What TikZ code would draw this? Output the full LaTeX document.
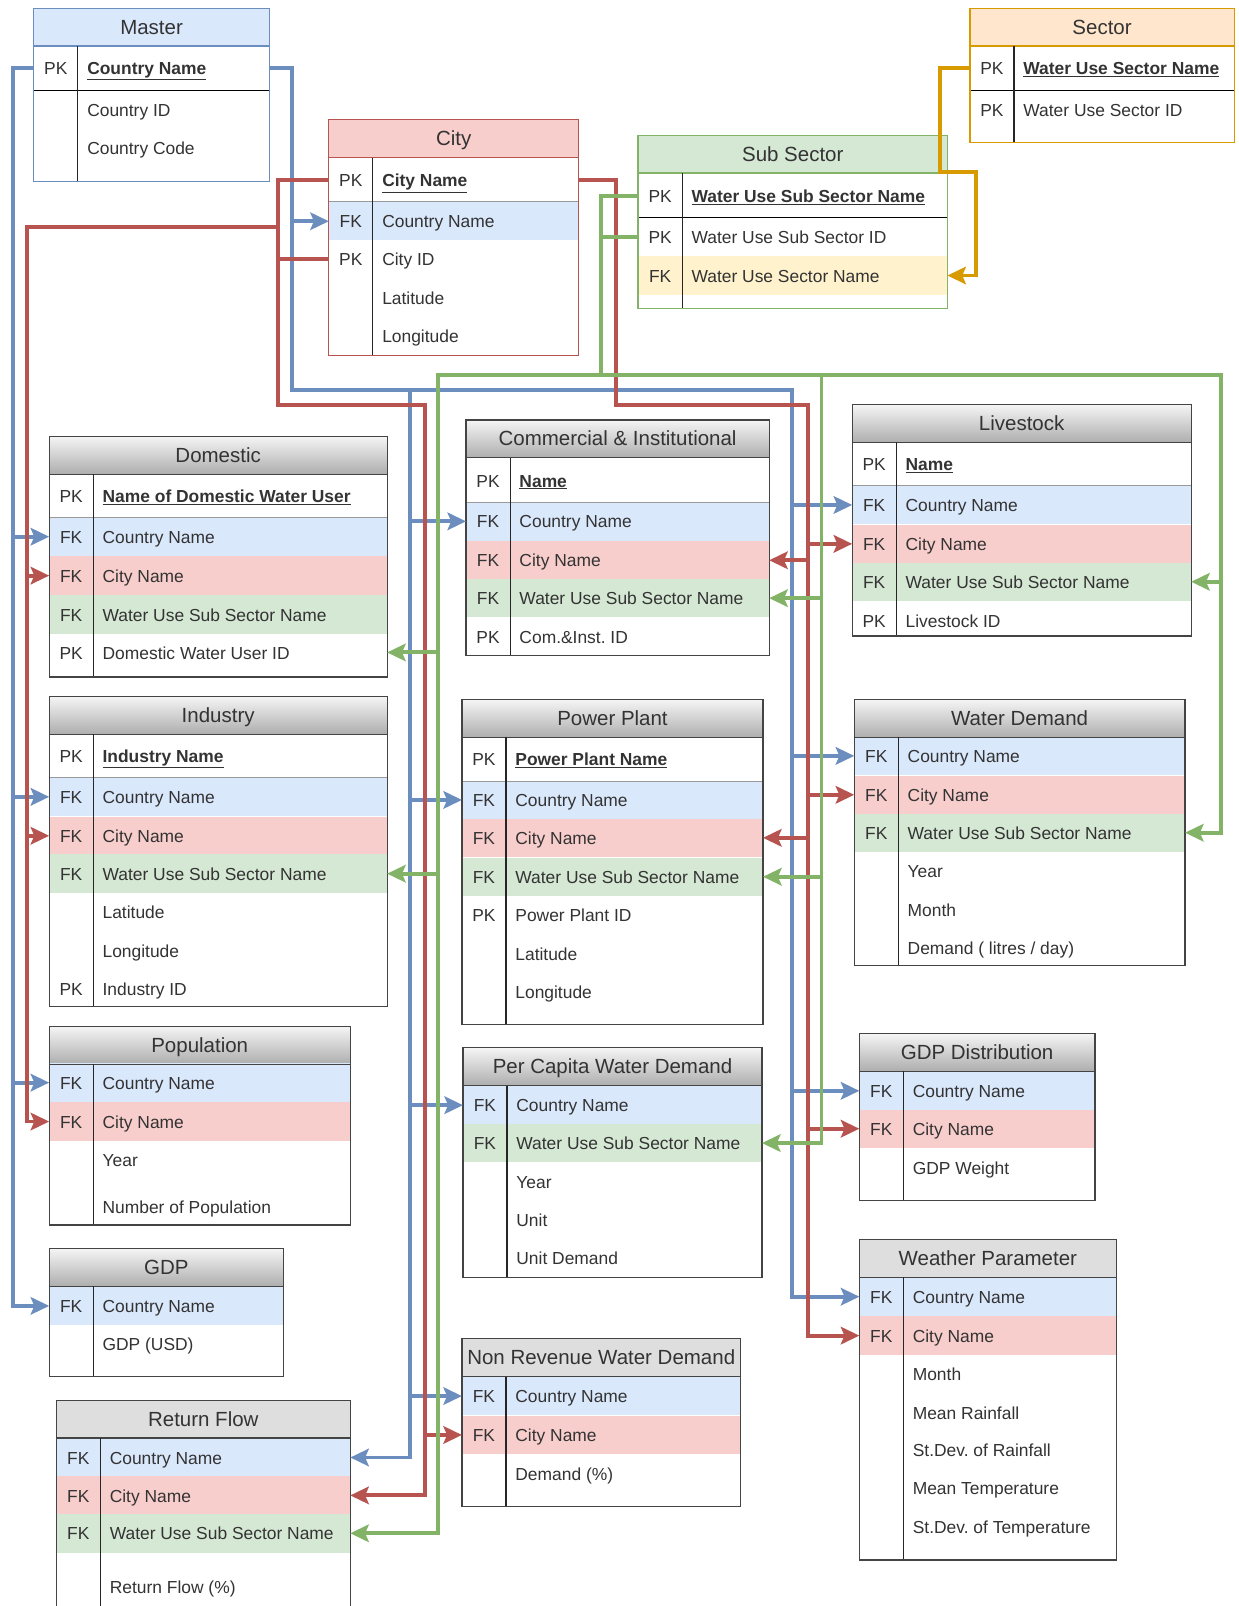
\documentclass[tikz,border=0pt]{standalone}
\usepackage{fontspec}
\setmainfont{Liberation Sans}
\usetikzlibrary{arrows.meta}
\frenchspacing

\definecolor{cblue}{HTML}{6C8EBF}
\definecolor{cred}{HTML}{B85450}
\definecolor{cgreen}{HTML}{82B366}
\definecolor{corange}{HTML}{D79B00}
\definecolor{fblue}{HTML}{DAE8FC}
\definecolor{fred}{HTML}{F8CECC}
\definecolor{fgreen}{HTML}{D5E8D4}
\definecolor{fyellow}{HTML}{FFF2CC}
\definecolor{forange}{HTML}{FFE6CC}
\definecolor{txt}{HTML}{333333}
\definecolor{frame}{HTML}{444444}
\definecolor{sepgray}{HTML}{9A9A9A}

\newcommand\erRowFont{\fontsize{17}{20}\selectfont}
\newcommand\erTtlFont{\fontsize{20}{24}\selectfont}
\newcommand\erpk[1]{\underline{\textbf{#1}}}

% one field row: [fill] name, left, right, y centre, key, text
\newcommand\erfld[7][none]{%
  \pgfmathsetmacro\erfw{#4-#3}%
  \node[fldbox, fill=#1, minimum width=\erfw pt] (#2) at ({(#3+#4)/2},#5) {};%
  \node[keytxt] (#2-k) at ({#3+21.5},{#5+2}) {#6};%
  \node[fldtxt] (#2-t) at ({#3+52},{#5+2}) {#7};%
}
% table body and header: name, left, top, right, bottom, header style, title
\newcommand\erhead[7]{%
  \pgfmathsetmacro\ertw{#4-#2}%
  \pgfmathsetmacro\erth{#5-#3}%
  \node[inner sep=0pt, outer sep=0pt, fill=white, minimum width=\ertw pt, minimum height=\erth pt] (#1) at ({(#2+#4)/2},{(#3+#5)/2}) {};%
  \path[#6] (#2,#3) rectangle (#4,{#3+37});%
  \node[ttl] (#1-ttl) at ({(#2+#4)/2},{#3+20}) {#7};%
}
% frame, header rule and key divider: left, top, right, bottom, border colour
\newcommand\erframe[5]{%
  \draw[draw=#5, line width=1.2pt] (#1,{#2+37}) -- (#3,{#2+37});%
  \draw[draw=black!85, line width=1.1pt] ({#1+43},{#2+37}) -- ({#1+43},#4);%
  \draw[draw=#5, line width=1.2pt] (#1,#2) rectangle (#3,#4);%
}
% rule under the primary key row: left, right, y, colour
\newcommand\ersep[4]{\draw[draw=#4, line width=1.1pt] (#1,#3) -- (#2,#3);}

\tikzset{
  fldbox/.style={inner sep=0pt, outer sep=0pt, minimum height=37.5pt, draw=none},
  keytxt/.style={inner sep=0pt, font=\erRowFont, text=txt, anchor=center, text height=12.5pt, text depth=3.5pt},
  fldtxt/.style={inner sep=0pt, font=\erRowFont, text=txt, anchor=west, text height=12.5pt, text depth=3.5pt},
  ttl/.style={inner sep=0pt, font=\erTtlFont, text=txt, text height=14.5pt, text depth=4pt},
  ghead/.style={top color=black!4, bottom color=black!32},
  fhead/.style={fill=black!13},
  relline/.style={line width=3.8pt},
  cnline/.style={relline, draw=cblue},
  ctline/.style={relline, draw=cred},
  wsline/.style={relline, draw=cgreen},
  snline/.style={relline, draw=corange},
  fkarrow/.style={-{Stealth[length=18pt,width=17pt,inset=3.5pt]}},
  fkboth/.style={{Stealth[length=18pt,width=17pt,inset=3.5pt]}-{Stealth[length=18pt,width=17pt,inset=3.5pt]}}
}

\begin{document}
\begin{tikzpicture}[x=1pt,y=-1pt]
\useasboundingbox (0,0) rectangle (1209,1568);
\fill[white] (0,0) rectangle (1209,1568);

% ---------- Master ----------
\erhead{mas}{33}{8}{263}{177}{fill=fblue}{Master}
\erfld{mas-cn}{33}{263}{66}{PK}{\erpk{Country Name}}
\erfld{mas-id}{33}{263}{107}{}{Country ID}
\erfld{mas-cc}{33}{263}{144}{}{Country Code}
\ersep{33}{263}{88}{black}
\erframe{33}{8}{263}{177}{cblue}

% ---------- City ----------
\erhead{city}{321}{117}{565}{347}{fill=fred}{City}
\erfld{city-nm}{321}{565}{176}{PK}{\erpk{City Name}}
\erfld[fblue]{city-cn}{321}{565}{216}{FK}{Country Name}
\erfld{city-id}{321}{565}{253}{PK}{City ID}
\erfld{city-la}{321}{565}{291}{}{Latitude}
\erfld{city-lo}{321}{565}{328}{}{Longitude}
\ersep{321}{565}{197}{sepgray}
\erframe{321}{117}{565}{347}{cred}

% ---------- Sub Sector ----------
\erhead{sub}{623}{132}{925}{301}{fill=fgreen}{Sub Sector}
\erfld{sub-nm}{623}{925}{191}{PK}{\erpk{Water Use Sub Sector Name}}
\erfld{sub-id}{623}{925}{231}{PK}{Water Use Sub Sector ID}
\erfld[fyellow]{sub-sn}{623}{925}{269}{FK}{Water Use Sector Name}
\ersep{623}{925}{212}{black}
\erframe{623}{132}{925}{301}{cgreen}

% ---------- Sector ----------
\erhead{sec}{947}{8}{1205}{139}{fill=forange}{Sector}
\erfld{sec-nm}{947}{1205}{66}{PK}{\erpk{Water Use Sector Name}}
\erfld{sec-id}{947}{1205}{107}{PK}{Water Use Sector ID}
\ersep{947}{1205}{88}{black}
\erframe{947}{8}{1205}{139}{corange}

% ---------- Domestic ----------
\erhead{dom}{48}{426}{378}{661}{ghead}{Domestic}
\erfld{dom-nm}{48}{378}{484}{PK}{\erpk{Name of Domestic Water User}}
\erfld[fblue]{dom-cn}{48}{378}{524}{FK}{Country Name}
\erfld[fred]{dom-ct}{48}{378}{562}{FK}{City Name}
\erfld[fgreen]{dom-ws}{48}{378}{600}{FK}{Water Use Sub Sector Name}
\erfld{dom-id}{48}{378}{637}{PK}{Domestic Water User ID}
\ersep{48}{378}{505}{sepgray}
\erframe{48}{426}{378}{661}{frame}

% ---------- Industry ----------
\erhead{ind}{48}{680}{378}{983}{ghead}{Industry}
\erfld{ind-nm}{48}{378}{738}{PK}{\erpk{Industry Name}}
\erfld[fblue]{ind-cn}{48}{378}{778}{FK}{Country Name}
\erfld[fred]{ind-ct}{48}{378}{816}{FK}{City Name}
\erfld[fgreen]{ind-ws}{48}{378}{853}{FK}{Water Use Sub Sector Name}
\erfld{ind-la}{48}{378}{890}{}{Latitude}
\erfld{ind-lo}{48}{378}{928}{}{Longitude}
\erfld{ind-id}{48}{378}{965}{PK}{Industry ID}
\ersep{48}{378}{759}{sepgray}
\erframe{48}{680}{378}{983}{frame}

% ---------- Population ----------
\erhead{pop}{48}{1002}{342}{1196}{ghead}{Population}
\erfld[fblue]{pop-cn}{48}{342}{1057}{FK}{Country Name}
\erfld[fred]{pop-ct}{48}{342}{1095}{FK}{City Name}
\erfld{pop-yr}{48}{342}{1132}{}{Year}
\erfld{pop-np}{48}{342}{1178}{}{Number of Population}
\erframe{48}{1002}{342}{1196}{frame}

% ---------- GDP ----------
\erhead{gdp}{48}{1219}{277}{1344}{ghead}{GDP}
\erfld[fblue]{gdp-cn}{48}{277}{1275}{FK}{Country Name}
\erfld{gdp-us}{48}{277}{1312}{}{GDP (USD)}
\erframe{48}{1219}{277}{1344}{frame}

% ---------- Return Flow ----------
\erhead{ret}{55}{1367}{342}{1570}{fhead}{Return Flow}
\erfld[fblue]{ret-cn}{55}{342}{1423}{FK}{Country Name}
\erfld[fred]{ret-ct}{55}{342}{1460}{FK}{City Name}
\erfld[fgreen]{ret-ws}{55}{342}{1497}{FK}{Water Use Sub Sector Name}
\erfld{ret-rf}{55}{342}{1549}{}{Return Flow (\%)}
\erframe{55}{1367}{342}{1570}{frame}

% ---------- Commercial & Institutional ----------
\erhead{ci}{455}{410}{751}{640}{ghead}{Commercial \& Institutional}
\erfld{ci-nm}{455}{751}{469}{PK}{\erpk{Name}}
\erfld[fblue]{ci-cn}{455}{751}{509}{FK}{Country Name}
\erfld[fred]{ci-ct}{455}{751}{547}{FK}{City Name}
\erfld[fgreen]{ci-ws}{455}{751}{584}{FK}{Water Use Sub Sector Name}
\erfld{ci-id}{455}{751}{622}{PK}{Com.\&Inst. ID}
\ersep{455}{751}{491}{sepgray}
\erframe{455}{410}{751}{640}{frame}

% ---------- Power Plant ----------
\erhead{pp}{451}{683}{745}{1000}{ghead}{Power Plant}
\erfld{pp-nm}{451}{745}{741}{PK}{\erpk{Power Plant Name}}
\erfld[fblue]{pp-cn}{451}{745}{781}{FK}{Country Name}
\erfld[fred]{pp-ct}{451}{745}{818}{FK}{City Name}
\erfld[fgreen]{pp-ws}{451}{745}{856}{FK}{Water Use Sub Sector Name}
\erfld{pp-id}{451}{745}{893}{PK}{Power Plant ID}
\erfld{pp-la}{451}{745}{931}{}{Latitude}
\erfld{pp-lo}{451}{745}{968}{}{Longitude}
\ersep{451}{745}{763}{sepgray}
\erframe{451}{683}{745}{1000}{frame}

% ---------- Per Capita Water Demand ----------
\erhead{pc}{452}{1023}{744}{1247}{ghead}{Per Capita Water Demand}
\erfld[fblue]{pc-cn}{452}{744}{1079}{FK}{Country Name}
\erfld[fgreen]{pc-ws}{452}{744}{1116}{FK}{Water Use Sub Sector Name}
\erfld{pc-yr}{452}{744}{1154}{}{Year}
\erfld{pc-un}{452}{744}{1191}{}{Unit}
\erfld{pc-ud}{452}{744}{1228}{}{Unit Demand}
\erframe{452}{1023}{744}{1247}{frame}

% ---------- Non Revenue Water Demand ----------
\erhead{nr}{451}{1307}{723}{1471}{fhead}{Non Revenue Water Demand}
\erfld[fblue]{nr-cn}{451}{723}{1363}{FK}{Country Name}
\erfld[fred]{nr-ct}{451}{723}{1401}{FK}{City Name}
\erfld{nr-dm}{451}{723}{1439}{}{Demand (\%)}
\erframe{451}{1307}{723}{1471}{frame}

% ---------- Livestock ----------
\erhead{liv}{832}{395}{1163}{621}{ghead}{Livestock}
\erfld{liv-nm}{832}{1163}{453}{PK}{\erpk{Name}}
\erfld[fblue]{liv-cn}{832}{1163}{493}{FK}{Country Name}
\erfld[fred]{liv-ct}{832}{1163}{531}{FK}{City Name}
\erfld[fgreen]{liv-ws}{832}{1163}{568}{FK}{Water Use Sub Sector Name}
\erfld{liv-id}{832}{1163}{606}{PK}{Livestock ID}
\ersep{832}{1163}{474}{sepgray}
\erframe{832}{395}{1163}{621}{frame}

% ---------- Water Demand ----------
\erhead{wd}{834}{683}{1157}{943}{ghead}{Water Demand}
\erfld[fblue]{wd-cn}{834}{1157}{738}{FK}{Country Name}
\erfld[fred]{wd-ct}{834}{1157}{776}{FK}{City Name}
\erfld[fgreen]{wd-ws}{834}{1157}{813}{FK}{Water Use Sub Sector Name}
\erfld{wd-yr}{834}{1157}{850}{}{Year}
\erfld{wd-mo}{834}{1157}{888}{}{Month}
\erfld{wd-dm}{834}{1157}{925}{}{Demand ( litres / day)}
\erframe{834}{683}{1157}{943}{frame}

% ---------- GDP Distribution ----------
\erhead{gd}{839}{1009}{1069}{1172}{ghead}{GDP Distribution}
\erfld[fblue]{gd-cn}{839}{1069}{1065}{FK}{Country Name}
\erfld[fred]{gd-ct}{839}{1069}{1102}{FK}{City Name}
\erfld{gd-gw}{839}{1069}{1140}{}{GDP Weight}
\erframe{839}{1009}{1069}{1172}{frame}

% ---------- Weather Parameter ----------
\erhead{wea}{839}{1210}{1090}{1523}{fhead}{Weather Parameter}
\erfld[fblue]{wea-cn}{839}{1090}{1266}{FK}{Country Name}
\erfld[fred]{wea-ct}{839}{1090}{1304}{FK}{City Name}
\erfld{wea-mo}{839}{1090}{1341}{}{Month}
\erfld{wea-mr}{839}{1090}{1379}{}{Mean Rainfall}
\erfld{wea-sr}{839}{1090}{1416}{}{St.Dev. of Rainfall}
\erfld{wea-mt}{839}{1090}{1453}{}{Mean Temperature}
\erfld{wea-st}{839}{1090}{1491}{}{St.Dev. of Temperature}
\erframe{839}{1210}{1090}{1523}{frame}

% ---------- routing lanes ----------
\coordinate (xb1) at (13,0);  \coordinate (xb2) at (285,0);
\coordinate (xb3) at (400,0); \coordinate (xb5) at (773,0);
\coordinate (xr1) at (26,0);  \coordinate (xr2) at (271,0);
\coordinate (xr3) at (415,0); \coordinate (xr4) at (601,0);
\coordinate (xr5) at (789,0);
\coordinate (xg1) at (428,0); \coordinate (xg2) at (587,0);
\coordinate (xg3) at (802,0); \coordinate (xg4) at (1192,0);
\coordinate (xo1) at (918,0); \coordinate (xo2) at (953,0);
\coordinate (hb) at (0,381);  \coordinate (hr) at (0,395);
\coordinate (hr1) at (0,222); \coordinate (hg) at (0,366);
\coordinate (ho) at (0,168);

% ---------- Country Name links ----------
\draw[cnline,fkarrow] (mas-cn.west) -- (xb1 |- mas-cn) -- (xb1 |- gdp-cn) -- (gdp-cn.west);
\foreach \t in {dom-cn,ind-cn,pop-cn} \draw[cnline,fkarrow] (xb1 |- \t) -- (\t.west);
\draw[cnline,fkarrow] (mas-cn.east) -- (xb2 |- mas-cn) -- (xb2 |- hb) -- (xb5 |- hb) -- (xb5 |- wea-cn) -- (wea-cn.west);
\draw[cnline,fkarrow] (xb2 |- city-cn) -- (city-cn.west);
\draw[cnline,fkarrow] (xb3 |- hb) -- (xb3 |- ret-cn) -- (ret-cn.east);
\foreach \t in {ci-cn,pp-cn,pc-cn,nr-cn} \draw[cnline,fkarrow] (xb3 |- \t) -- (\t.west);
\foreach \t in {liv-cn,wd-cn,gd-cn} \draw[cnline,fkarrow] (xb5 |- \t) -- (\t.west);

% ---------- City Name links ----------
\draw[ctline,fkarrow] (city-nm.west) -- (xr2 |- city-nm) -- (xr2 |- hr) -- (xr3 |- hr) -- (xr3 |- ret-ct) -- (ret-ct.east);
\draw[ctline] (city-id.west) -- (xr2 |- city-id);
\draw[ctline,fkarrow] (xr2 |- hr1) -- (xr1 |- hr1) -- (xr1 |- pop-ct) -- (pop-ct.west);
\foreach \t in {dom-ct,ind-ct} \draw[ctline,fkarrow] (xr1 |- \t) -- (\t.west);
\draw[ctline,fkarrow] (xr3 |- nr-ct) -- (nr-ct.west);
\draw[ctline,fkarrow] (city-nm.east) -- (xr4 |- city-nm) -- (xr4 |- hr) -- (xr5 |- hr) -- (xr5 |- wea-ct) -- (wea-ct.west);
\foreach \t in {ci-ct,pp-ct} \draw[ctline,fkarrow] (xr5 |- \t) -- (\t.east);
\foreach \t in {liv-ct,wd-ct,gd-ct} \draw[ctline,fkarrow] (xr5 |- \t) -- (\t.west);

% ---------- Water Use Sub Sector Name links ----------
\draw[wsline] (sub-nm.west) -- (xg2 |- sub-nm) -- (xg2 |- hg);
\draw[wsline] (sub-id.west) -- (xg2 |- sub-id);
\draw[wsline,fkboth] (ret-ws.east) -- (xg1 |- ret-ws) -- (xg1 |- hg) -- (xg4 |- hg) -- (xg4 |- wd-ws) -- (wd-ws.east);
\foreach \t in {dom-id,ind-ws} \draw[wsline,fkarrow] (xg1 |- \t) -- (\t.east);
\draw[wsline,fkarrow] (xg3 |- hg) -- (xg3 |- pc-ws) -- (pc-ws.east);
\foreach \t in {ci-ws,pp-ws} \draw[wsline,fkarrow] (xg3 |- \t) -- (\t.east);
\draw[wsline,fkarrow] (xg4 |- liv-ws) -- (liv-ws.east);

% ---------- Water Use Sector Name link ----------
\draw[snline,fkarrow] (sec-nm.west) -- (xo1 |- sec-nm) -- (xo1 |- ho) -- (xo2 |- ho) -- (xo2 |- sub-sn) -- (sub-sn.east);

\end{tikzpicture}
\end{document}
